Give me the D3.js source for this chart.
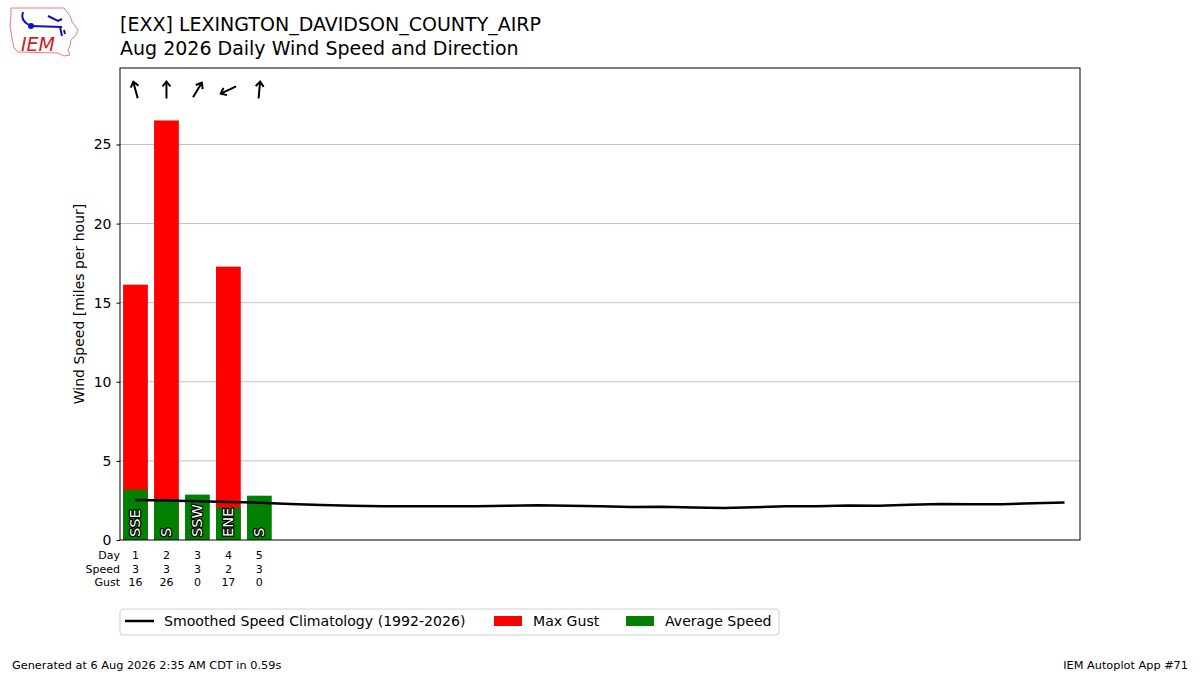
<!DOCTYPE html>
<html>
<head>
<meta charset="utf-8">
<script src="https://cdn.jsdelivr.net/npm/d3@7"></script>
<style>
  body { margin: 0; background: #fff; }
  text { font-family: "DejaVu Sans", sans-serif; }
</style>
</head>
<body>
<script>
// Data
const days = [1, 2, 3, 4, 5];
const avgSpeed = [3.18, 2.58, 2.87, 2.05, 2.80];
const maxGust = [16.14, 26.52, 0, 17.28, 0];
const speedLabels = ["3", "3", "3", "2", "3"];
const gustLabels = ["16", "26", "0", "17", "0"];
const dirLabels = ["SSE", "S", "SSW", "ENE", "S"];
const dirDegrees = [165, 180, 211, 65, 185];
const climoDays = d3.range(1, 32);
const climoSpeed = [2.53, 2.50, 2.45, 2.40, 2.36, 2.28, 2.22, 2.17, 2.14, 2.14,
  2.14, 2.14, 2.16, 2.19, 2.17, 2.14, 2.09, 2.10, 2.06, 2.02,
  2.07, 2.13, 2.14, 2.18, 2.17, 2.23, 2.27, 2.26, 2.26, 2.33, 2.37];
const yTicks = [0, 5, 10, 15, 20, 25];

const svgWidth = 1200, svgHeight = 675;
const margin = { left: 120, right: 120, top: 68, bottom: 135 };
const width = svgWidth - margin.left - margin.right;
const height = svgHeight - margin.top - margin.bottom;

const svg = d3.select('body').append('svg')
  .attr('width', svgWidth).attr('height', svgHeight);

const g = svg.append('g').attr('transform', `translate(${margin.left},${margin.top})`);

const x = d3.scaleLinear().domain([0.5, 31.5]).range([0, width]);
const y = d3.scaleLinear().domain([0, d3.max(maxGust) * 1.125]).range([height, 0]);
const barW = x(1.4) - x(1.0);

// grid
g.selectAll('line.grid').data(yTicks.slice(1)).enter().append('line')
  .attr('x1', 0).attr('x2', width)
  .attr('y1', d => y(d)).attr('y2', d => y(d))
  .attr('stroke', '#b0b0b0').attr('stroke-width', 0.8);

// gust bars then average bars
g.selectAll('rect.gust').data(days).enter().append('rect')
  .attr('x', (d, i) => x(d) - barW)
  .attr('width', barW * 2)
  .attr('y', (d, i) => y(maxGust[i]))
  .attr('height', (d, i) => height - y(maxGust[i]))
  .attr('fill', '#ff0000');

g.selectAll('rect.avg').data(days).enter().append('rect')
  .attr('x', (d, i) => x(d) - barW)
  .attr('width', barW * 2)
  .attr('y', (d, i) => y(avgSpeed[i]))
  .attr('height', (d, i) => height - y(avgSpeed[i]))
  .attr('fill', '#008000');

// climatology line
g.append('path')
  .datum(climoDays)
  .attr('d', d3.line().x(d => x(d)).y((d, i) => y(climoSpeed[i])))
  .attr('fill', 'none').attr('stroke', '#000').attr('stroke-width', 2.5);

// direction labels inside bars
g.selectAll('text.dir').data(days).enter().append('text')
  .attr('transform', (d, i) => `translate(${x(d) + 5},${height - 3}) rotate(-90)`)
  .attr('font-size', 14.5)
  .attr('fill', '#fff')
  .attr('stroke', '#000').attr('stroke-width', 2.5)
  .attr('paint-order', 'stroke')
  .attr('stroke-linejoin', 'round')
  .text((d, i) => dirLabels[i]);

// arrows showing direction wind blows toward
const arrowLen = 17;
const arrows = g.selectAll('g.arrow').data(days).enter().append('g')
  .attr('transform', (d, i) => `translate(${x(d)},${90 - margin.top}) rotate(${dirDegrees[i] + 180})`);
arrows.append('line')
  .attr('x1', 0).attr('y1', arrowLen / 2).attr('x2', 0).attr('y2', -arrowLen / 2)
  .attr('stroke', '#000').attr('stroke-width', 2);
arrows.append('path')
  .attr('d', `M-4,${-arrowLen / 2 + 5} L0,${-arrowLen / 2} L4,${-arrowLen / 2 + 5}`)
  .attr('fill', 'none').attr('stroke', '#000').attr('stroke-width', 2)
  .attr('stroke-linejoin', 'miter');

// frame
g.append('rect').attr('width', width).attr('height', height)
  .attr('fill', 'none').attr('stroke', '#000').attr('stroke-width', 1);

// y axis
const yAxis = g.append('g').call(d3.axisLeft(y).tickValues(yTicks).tickSize(3.5).tickPadding(5));
yAxis.select('.domain').remove();
yAxis.selectAll('text').attr('font-size', 14).attr('font-family', 'DejaVu Sans');
yAxis.selectAll('line').attr('stroke', '#000');

g.append('text')
  .attr('transform', `translate(${-36},${height / 2}) rotate(-90)`)
  .attr('text-anchor', 'middle').attr('font-size', 14)
  .text('Wind Speed [miles per hour]');

// table under the axis
const rows = [
  { name: 'Day', values: days.map(String) },
  { name: 'Speed', values: speedLabels },
  { name: 'Gust', values: gustLabels }
];
rows.forEach((row, r) => {
  const yy = height + 19 + r * 13.5;
  g.append('text').attr('x', 0).attr('y', yy).attr('text-anchor', 'end')
    .attr('font-size', 11).text(row.name);
  g.selectAll(null).data(row.values).enter().append('text')
    .attr('x', (d, i) => x(days[i])).attr('y', yy)
    .attr('text-anchor', 'middle').attr('font-size', 11)
    .text(d => d);
});

// titles
svg.append('text').attr('x', 120).attr('y', 31).attr('font-size', 19)
  .text('[EXX] LEXINGTON_DAVIDSON_COUNTY_AIRP');
svg.append('text').attr('x', 120).attr('y', 55).attr('font-size', 19)
  .text('Aug 2026 Daily Wind Speed and Direction');

// legend
const lg = svg.append('g').attr('transform', 'translate(120,609)');
lg.append('rect').attr('width', 659).attr('height', 26).attr('rx', 3)
  .attr('fill', '#fff').attr('stroke', '#d0d0d0');
lg.append('line').attr('x1', 5).attr('x2', 34).attr('y1', 12).attr('y2', 12)
  .attr('stroke', '#000').attr('stroke-width', 2.5);
lg.append('text').attr('x', 44).attr('y', 17).attr('font-size', 14.1)
  .text('Smoothed Speed Climatology (1992-2026)');
lg.append('rect').attr('x', 374).attr('y', 7).attr('width', 28).attr('height', 10).attr('fill', '#ff0000');
lg.append('text').attr('x', 413).attr('y', 17).attr('font-size', 14.1).text('Max Gust');
lg.append('rect').attr('x', 506).attr('y', 7).attr('width', 28).attr('height', 10).attr('fill', '#008000');
lg.append('text').attr('x', 545).attr('y', 17).attr('font-size', 14.1).text('Average Speed');

// footer
svg.append('text').attr('x', 12).attr('y', 669).attr('font-size', 11.3)
  .text('Generated at 6 Aug 2026 2:35 AM CDT in 0.59s');
svg.append('text').attr('x', 1188).attr('y', 669).attr('font-size', 11.3)
  .attr('text-anchor', 'end').text('IEM Autoplot App #71');

// simplified IEM logo
const logo = svg.append('g');
logo.append('path')
  .attr('d', 'M11,8 L64,8 L67,12 L70,16 L72,22 L76,27 L78,31 L75,36 L71,40 L70,46 L68,50 L70,55 L64,56 L58,53 L18,52 L14,48 L12,38 L10,26 L11,15 Z')
  .attr('fill', '#fff').attr('stroke', '#e08080').attr('stroke-width', 1);
logo.append('path').attr('d', 'M23,12 Q20,20 29,25 M31,26 L62,27 M48,16 L58,21 L62,19 M60,27 L62,36 M64,30 L65,34')
  .attr('fill', 'none').attr('stroke', '#1010c0').attr('stroke-width', 2);
logo.append('circle').attr('cx', 31).attr('cy', 26).attr('r', 3).attr('fill', '#1010c0');
logo.append('text').attr('x', 21).attr('y', 51).attr('font-size', 19)
  .attr('font-family', 'Liberation Serif').attr('font-style', 'italic')
  .attr('fill', '#d02020').text('IEM');
</script>
</body>
</html>
